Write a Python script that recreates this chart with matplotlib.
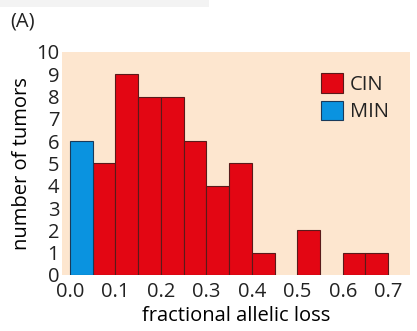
import numpy as np
import matplotlib.pyplot as plt
from matplotlib.patches import Patch, Rectangle

plt.rcParams.update({
    'font.family': ['Open Sans', 'DejaVu Sans'],
    'font.size': 14,
    'text.color': '#222222',
    'xtick.color': '#222222',
    'ytick.color': '#222222',
})

# histogram bins (left edges) and counts
bin_left = [0.0, 0.05, 0.10, 0.15, 0.20, 0.25, 0.30, 0.35, 0.40, 0.45, 0.50, 0.55, 0.60, 0.65]
cin_counts = [0, 5, 9, 8, 8, 6, 4, 5, 1, 0, 2, 0, 1, 1]
min_counts = [6, 0, 0, 0, 0, 0, 0, 0, 0, 0, 0, 0, 0, 0]
xticks = [0.0, 0.1, 0.2, 0.3, 0.4, 0.5, 0.6, 0.7]
yticks = list(range(0, 11))

red = '#E30613'
blue = '#0A93E0'
peach = '#FDE6CF'
edge = '#5a1a1a'

fig = plt.figure(figsize=(4.17, 3.31), dpi=100)
# faint grey strip at the very top of the page
fig.patches.append(Rectangle((0, 0.98), 0.5, 0.02, transform=fig.transFigure,
                             facecolor='#f3f3f3', edgecolor='none'))
ax = fig.add_axes([62/417, 1 - 275/331, 348/417, 223/331])
ax.set_facecolor(peach)

bl = np.array(bin_left)
cin = np.array(cin_counts)
mn = np.array(min_counts)
ax.bar(bl[cin > 0], cin[cin > 0], width=0.05, align='edge', color=red,
       edgecolor=edge, linewidth=0.8)
ax.bar(bl[mn > 0], mn[mn > 0], width=0.05, align='edge', color=blue,
       edgecolor='#1a3a5a', linewidth=0.8)

ax.set_xlim(-0.0176, 0.748)
ax.set_ylim(0, 10)
ax.set_xticks(xticks)
ax.set_xticklabels(['%.1f' % t for t in xticks], fontsize=14.5)
ax.set_yticks(yticks)
ax.set_yticklabels([str(t) for t in yticks], fontsize=14.5)
ax.tick_params(length=0)
ax.tick_params(axis='x', pad=5)
ax.tick_params(axis='y', pad=2)
for s in ax.spines.values():
    s.set_visible(False)

ax.set_xlabel('fractional allelic loss', fontsize=14.5, labelpad=3)
ax.set_ylabel('number of tumors', fontsize=14.5, labelpad=3)

handles = [Patch(facecolor=red, edgecolor=edge, linewidth=0.8, label='CIN'),
           Patch(facecolor=blue, edgecolor='#1a3a5a', linewidth=0.8, label='MIN')]
ax.legend(handles=handles, loc='upper left', frameon=False, fontsize=14.5,
          handlelength=1.1, handleheight=1.1, handletextpad=0.35,
          labelspacing=0.3, borderpad=0, borderaxespad=0,
          bbox_to_anchor=(0.744, 0.905))

fig.text(10/417, 1 - 22/331, '(A)', fontsize=14.5, va='center', ha='left')

fig.savefig('out.png', dpi=100)
